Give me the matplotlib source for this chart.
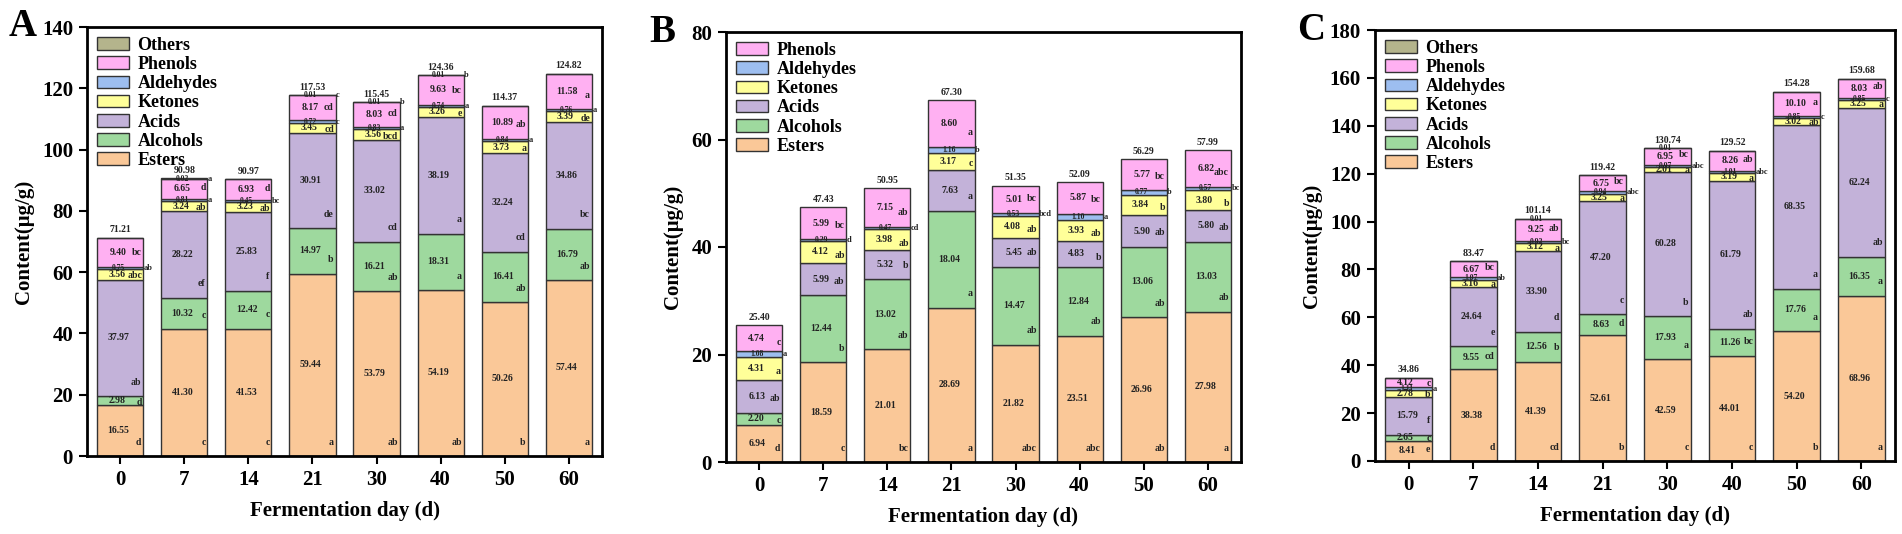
import matplotlib
matplotlib.use("Agg")
import matplotlib.pyplot as plt
import numpy as np

plt.rcParams['font.family'] = ['Liberation Serif', 'DejaVu Serif']
plt.rcParams['font.weight'] = 'bold'

days = ["0", "7", "14", "21", "30", "40", "50", "60"]

# ---- panel A ----
a_esters = [16.55, 41.30, 41.53, 59.44, 53.79, 54.19, 50.26, 57.44]
a_alcohols = [2.98, 10.32, 12.42, 14.97, 16.21, 18.31, 16.41, 16.79]
a_acids = [37.97, 28.22, 25.83, 30.91, 33.02, 38.19, 32.24, 34.86]
a_ketones = [3.56, 3.24, 3.23, 3.45, 3.56, 3.26, 3.73, 3.39]
a_aldehydes = [0.75, 0.81, 0.45, 0.72, 0.83, 0.74, 0.84, 0.76]
a_phenols = [9.40, 6.65, 6.93, 8.17, 8.03, 9.63, 10.89, 11.58]
a_others = [0, 0.02, 0, 0.01, 0.01, 0.01, 0, 0]
a_totals = ["71.21", "90.98", "90.97", "117.53", "115.45", "124.36", "114.37", "124.82"]
a_esters_sig = ["d", "c", "c", "a", "ab", "ab", "b", "a"]
a_alcohols_sig = ["d", "c", "c", "b", "ab", "a", "ab", "ab"]
a_acids_sig = ["ab", "ef", "f", "de", "cd", "a", "cd", "bc"]
a_ketones_sig = ["abc", "ab", "ab", "cd", "bcd", "e", "a", "de"]
a_aldehydes_sig = ["ab", "a", "bc", "c", "a", "a", "a", "a"]
a_phenols_sig = ["bc", "d", "d", "cd", "cd", "bc", "ab", "a"]
a_others_sig = ["", "a", "", "c", "b", "b", "", ""]

# ---- panel B ----
b_esters = [6.94, 18.59, 21.01, 28.69, 21.82, 23.51, 26.96, 27.98]
b_alcohols = [2.20, 12.44, 13.02, 18.04, 14.47, 12.84, 13.06, 13.03]
b_acids = [6.13, 5.99, 5.32, 7.63, 5.45, 4.83, 5.90, 5.80]
b_ketones = [4.31, 4.12, 3.98, 3.17, 4.08, 3.93, 3.84, 3.80]
b_aldehydes = [1.08, 0.29, 0.47, 1.16, 0.53, 1.10, 0.77, 0.57]
b_phenols = [4.74, 5.99, 7.15, 8.60, 5.01, 5.87, 5.77, 6.82]
b_totals = ["25.40", "47.43", "50.95", "67.30", "51.35", "52.09", "56.29", "57.99"]
b_esters_sig = ["d", "c", "bc", "a", "abc", "abc", "ab", "a"]
b_alcohols_sig = ["c", "b", "ab", "a", "ab", "ab", "ab", "ab"]
b_acids_sig = ["ab", "ab", "b", "a", "ab", "b", "ab", "ab"]
b_ketones_sig = ["a", "ab", "ab", "c", "ab", "ab", "b", "b"]
b_aldehydes_sig = ["a", "d", "cd", "b", "bcd", "a", "b", "bc"]
b_phenols_sig = ["c", "bc", "ab", "a", "bc", "bc", "bc", "abc"]

# ---- panel C ----
c_esters = [8.41, 38.38, 41.39, 52.61, 42.59, 44.01, 54.20, 68.96]
c_alcohols = [2.65, 9.55, 12.56, 8.63, 17.93, 11.26, 17.76, 16.35]
c_acids = [15.79, 24.64, 33.90, 47.20, 60.28, 61.79, 68.35, 62.24]
c_ketones = [2.78, 3.16, 3.12, 3.25, 2.01, 3.19, 3.02, 3.25]
c_aldehydes = [1.11, 1.07, 0.92, 0.94, 0.97, 1.01, 0.85, 0.85]
c_phenols = [4.12, 6.67, 9.25, 6.75, 6.95, 8.26, 10.10, 8.03]
c_others = [0, 0, 0.01, 0, 0.01, 0, 0, 0]
c_totals = ["34.86", "83.47", "101.14", "119.42", "130.74", "129.52", "154.28", "159.68"]
c_esters_sig = ["e", "d", "cd", "b", "c", "c", "b", "a"]
c_alcohols_sig = ["c", "cd", "b", "d", "a", "bc", "a", "a"]
c_acids_sig = ["f", "e", "d", "c", "b", "ab", "a", "ab"]
c_ketones_sig = ["b", "a", "a", "a", "a", "a", "ab", "a"]
c_aldehydes_sig = ["a", "ab", "bc", "abc", "abc", "abc", "c", "c"]
c_phenols_sig = ["c", "bc", "ab", "bc", "bc", "ab", "a", "ab"]

colors = {
    "Esters": "#FAC898",
    "Alcohols": "#9ED99E",
    "Acids": "#C3B2D9",
    "Ketones": "#FFFF99",
    "Aldehydes": "#9DBEF0",
    "Phenols": "#FFB0F2",
    "Others": "#B4B48C",
}

W, H = 1902, 534


def draw_panel(ax, series, totals, ymax, letter, ax_w_px):
    x = np.arange(len(days))
    width = 0.72
    bottom = np.zeros(len(days))
    handles = []
    for name, vals, sigs in series:
        vals = np.array(vals, dtype=float)
        bars = ax.bar(x, vals, width, bottom=bottom, color=colors[name],
                      edgecolor="#333333", linewidth=1, label=name)
        handles.append(bars)
        for i in range(len(days)):
            h = vals[i]
            if h <= 0:
                continue
            yc = bottom[i] + h / 2
            if h < 2:
                ax.text(x[i] - 0.03, yc, "%.2f" % h, ha="center", va="center",
                        fontsize=5.5, color="#222222")
                if sigs[i]:
                    ax.text(x[i] + 0.37, yc, sigs[i], ha="left", va="center",
                            fontsize=6, color="#222222")
            elif h < 5:
                ax.text(x[i] - 0.05, yc, "%.2f" % h, ha="center", va="center",
                        fontsize=7, color="#222222")
                ax.text(x[i] + 0.34, yc - h * 0.15, sigs[i], ha="right",
                        va="center", fontsize=7, color="#222222")
            else:
                ax.text(x[i] - 0.03, yc, "%.2f" % h, ha="center", va="center",
                        fontsize=7, color="#222222")
                ly = bottom[i] + min(0.35 * h, 0.022 * ymax)
                ax.text(x[i] + 0.33, ly, sigs[i], ha="right", va="bottom",
                        fontsize=7, color="#222222")
        bottom = bottom + vals
    for i in range(len(days)):
        ax.text(x[i], bottom[i] + 0.008 * ymax, totals[i], ha="center",
                va="bottom", fontsize=7, color="#222222")

    ax.set_xlim(-0.52, 7.52)
    ax.set_ylim(0, ymax)
    ax.set_yticks(np.arange(0, ymax + 1, 20))
    ax.set_xticks(x)
    ax.set_xticklabels(days)
    ax.tick_params(axis="both", direction="out", length=6, width=1.5,
                   labelsize=15, pad=4)
    for lab in ax.get_xticklabels() + ax.get_yticklabels():
        lab.set_fontweight("bold")
    for sp in ax.spines.values():
        sp.set_linewidth(2)
    ax.set_xlabel("Fermentation day (d)", fontsize=15, fontweight="bold",
                  labelpad=8)
    ax.set_ylabel("Content(μg/g)", fontsize=15, fontweight="bold", labelpad=6)
    ax.legend(handles[::-1], [s[0] for s in series][::-1], loc="upper left",
              frameon=False, handlelength=1.8, handleheight=0.7,
              labelspacing=0.12, borderaxespad=0.3, handletextpad=0.45,
              borderpad=0.25, prop={"weight": "bold", "size": 13})
    ax.text(-64 / ax_w_px, 1.0, letter, transform=ax.transAxes, fontsize=28,
            fontweight="bold", ha="center", va="center")


fig = plt.figure(figsize=(W / 100, H / 100), dpi=100)

ax_a = fig.add_axes([87 / W, 1 - 456 / H, (602 - 87) / W, (456 - 27) / H])
ax_b = fig.add_axes([726 / W, 1 - 462 / H, (1241 - 726) / W, (462 - 32) / H])
ax_c = fig.add_axes([1375 / W, 1 - 461 / H, (1895 - 1375) / W, (461 - 30) / H])

series_a = [("Esters", a_esters, a_esters_sig), ("Alcohols", a_alcohols, a_alcohols_sig),
            ("Acids", a_acids, a_acids_sig), ("Ketones", a_ketones, a_ketones_sig),
            ("Aldehydes", a_aldehydes, a_aldehydes_sig), ("Phenols", a_phenols, a_phenols_sig),
            ("Others", a_others, a_others_sig)]
series_b = [("Esters", b_esters, b_esters_sig), ("Alcohols", b_alcohols, b_alcohols_sig),
            ("Acids", b_acids, b_acids_sig), ("Ketones", b_ketones, b_ketones_sig),
            ("Aldehydes", b_aldehydes, b_aldehydes_sig), ("Phenols", b_phenols, b_phenols_sig)]
series_c = [("Esters", c_esters, c_esters_sig), ("Alcohols", c_alcohols, c_alcohols_sig),
            ("Acids", c_acids, c_acids_sig), ("Ketones", c_ketones, c_ketones_sig),
            ("Aldehydes", c_aldehydes, c_aldehydes_sig), ("Phenols", c_phenols, c_phenols_sig),
            ("Others", c_others, ["", "", "", "", "", "", "", ""])]

draw_panel(ax_a, series_a, a_totals, 140, "A", 602 - 87)
draw_panel(ax_b, series_b, b_totals, 80, "B", 1241 - 726)
draw_panel(ax_c, series_c, c_totals, 180, "C", 1895 - 1375)

fig.savefig("out.png", dpi=100)
